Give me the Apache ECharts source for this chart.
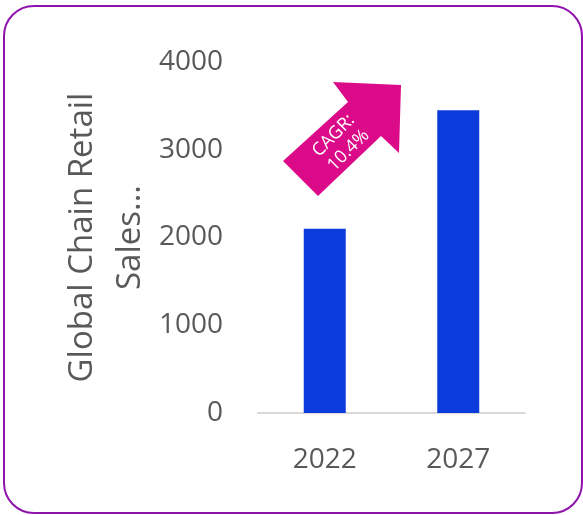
<!DOCTYPE html>
<html>
<head>
<meta charset="utf-8">
<script src="https://cdn.jsdelivr.net/npm/echarts@6/dist/echarts.min.js"></script>
<style>
  html, body { margin: 0; padding: 0; background: #fff; }
  #chart { width: 583px; height: 515px; }
</style>
</head>
<body>
<div id="chart"></div>
<script>
const years = ['2022', '2027']
const sales = [2100, 3450]
const yTicks = { min: 0, max: 4000, interval: 1000 }
const axisTitle = 'Global Chain Retail\nSales...'
const cagrText = 'CAGR:\n10.4%'

const textColor = '#595959'
const font = '"Open Sans", "Noto Sans", sans-serif'

const chart = echarts.init(document.getElementById('chart'))

chart.setOption({
  animation: false,
  grid: { left: 258, right: 58, top: 62, bottom: 102 },
  xAxis: {
    type: 'category',
    data: years,
    axisLine: { lineStyle: { color: '#D9D9D9', width: 2 } },
    axisTick: { show: false },
    axisLabel: { color: textColor, fontSize: 28, fontFamily: font, margin: 33 },
  },
  yAxis: {
    type: 'value',
    min: yTicks.min,
    max: yTicks.max,
    interval: yTicks.interval,
    name: axisTitle,
    nameLocation: 'middle',
    nameRotate: 90,
    nameGap: 102,
    nameTextStyle: { color: textColor, fontSize: 33, fontFamily: font, lineHeight: 48 },
    axisLine: { show: false },
    axisTick: { show: false },
    splitLine: { show: false },
    axisLabel: {
      color: textColor,
      fontSize: 28,
      fontFamily: font,
      margin: 35,
      formatter: (v) => String(v),
    },
  },
  series: [
    {
      type: 'bar',
      data: sales,
      barWidth: 42,
      itemStyle: { color: '#0B3BDA' },
    },
  ],
  graphic: [
    {
      type: 'rect',
      shape: { x: 4, y: 6, width: 578, height: 507, r: 30 },
      style: { fill: 'none', stroke: '#8F12AC', lineWidth: 2 },
      silent: true,
    },
    {
      type: 'polygon',
      shape: {
        points: [
          [283, 161], [348, 102], [333, 82], [401, 85],
          [399, 153], [381, 136], [318, 196],
        ],
      },
      style: { fill: '#DA0A88' },
    },
    {
      type: 'text',
      x: 341,
      y: 143,
      rotation: Math.PI / 4,
      style: {
        text: cagrText,
        fill: '#fff',
        fontSize: 18,
        fontFamily: font,
        align: 'center',
        verticalAlign: 'middle',
        lineHeight: 21,
      },
    },
  ],
})
</script>
</body>
</html>
